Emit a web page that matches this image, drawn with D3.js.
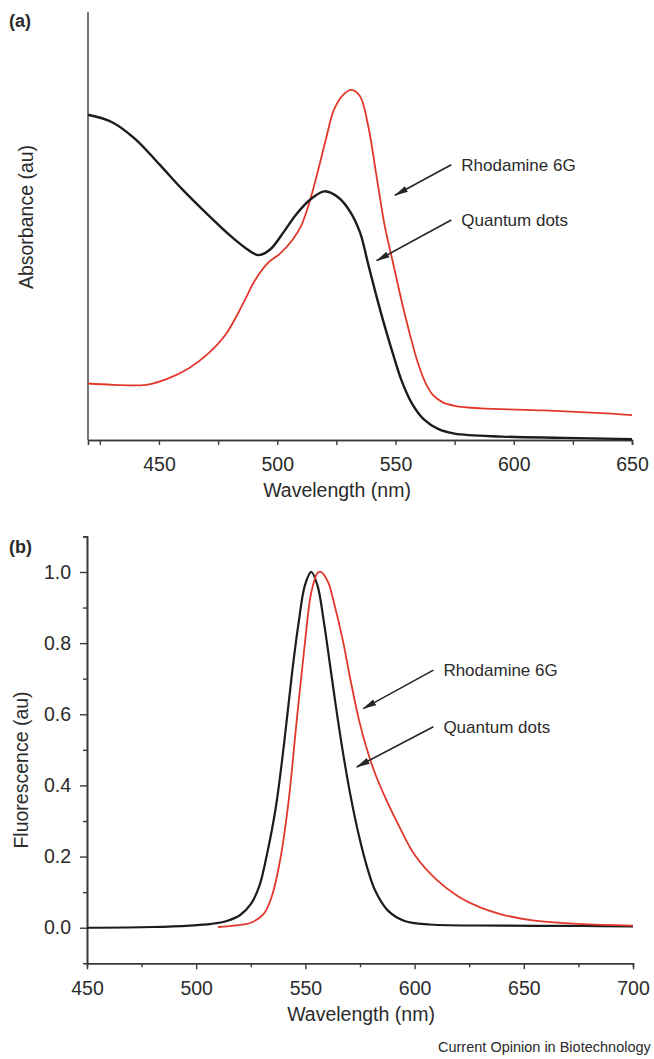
<!DOCTYPE html>
<html>
<head>
<meta charset="utf-8">
<script src="https://cdn.jsdelivr.net/npm/d3@7"></script>
<style>
  body { margin: 0; background: #fff; }
  svg { display: block; }
  text { font-family: "Liberation Sans", Arial, sans-serif; fill: #2b2b2b; }
</style>
</head>
<body>
<script>
// (a) absorbance, [wavelength nm, relative absorbance]
var absQD = [[420,0.760],[430,0.743],[440,0.703],[450,0.645],[460,0.585],[470,0.530],[480,0.478],
    [487,0.447],[492,0.432],[497,0.445],[503,0.488],[508,0.527],[514,0.562],[520,0.581],[526,0.566],
    [531,0.532],[535,0.485],[538.5,0.410],[542,0.335],[545.5,0.265],[549,0.200],[552.5,0.140],
    [557,0.085],[562,0.048],[568,0.026],[575,0.015],[595,0.008],[621,0.005],[650,0.002]];
var absR6G = [[420,0.132],[430.5,0.129],[444.5,0.129],[453.5,0.143],[462.5,0.167],[471,0.203],
    [478.5,0.249],[485.5,0.318],[490.5,0.372],[496,0.413],[501.5,0.437],[506.5,0.468],[510,0.499],
    [513.5,0.553],[517,0.624],[520.5,0.701],[524,0.772],[528,0.807],[531.3,0.818],[535,0.803],
    [538.5,0.733],[542,0.616],[545.5,0.499],[549,0.413],[552.5,0.327],[556,0.249],[559.5,0.180],
    [563,0.130],[566,0.104],[570,0.088],[575,0.080],[586,0.074],[612.5,0.069],[639,0.062],[650,0.058]];

// (b) fluorescence, [wavelength nm, normalised intensity]
var fluQD = [[450,0.000],[480,0.002],[497,0.006],[507,0.011],[514,0.019],[520,0.035],
    [525,0.066],[529,0.119],[532.5,0.209],[536.5,0.340],[540.3,0.521],[544,0.722],[547,0.862],
    [549.8,0.963],[552.7,1.000],[555.5,0.963],[558.4,0.862],[561.2,0.742],[564,0.621],[567,0.500],
    [570.7,0.370],[574.5,0.259],[578.3,0.169],[582,0.104],[587.8,0.048],[595.4,0.019],[607,0.009],
    [639,0.006],[677,0.005],[700,0.004]];
var fluR6G = [[510,0.002],[517.5,0.006],[525,0.014],[530.8,0.038],[534.6,0.088],[538.4,0.189],
    [542.2,0.350],[546,0.581],[549.8,0.802],[552.7,0.943],[555.5,0.997],[557,1.000],[560.3,0.973],
    [563.1,0.913],[567,0.812],[570.7,0.695],[574.5,0.585],[578,0.505],[582,0.432],[587,0.360],
    [593,0.284],[600,0.205],[610,0.135],[620,0.088],[630,0.057],[640,0.037],[655,0.020],
    [675,0.011],[700,0.006]];

var xTicksA = [450, 500, 550, 600, 650];
var xMinorA = [425, 475, 525, 575, 625];
var xTicksB = [450, 500, 550, 600, 650, 700];
var xMinorB = [475, 525, 575, 625, 675];
var yTicksB = [0, 0.2, 0.4, 0.6, 0.8, 1.0];
var yMinorB = [0.1, 0.3, 0.5, 0.7, 0.9, 1.1];
var dyeName = "Rhodamine 6G";
var qdName = "Quantum dots";

var width = 654, height = 1059;
var red = "#e2382c", black = "#1c1c1c", axisCol = "#3a3a3a";

var svg = d3.select("body").append("svg")
    .attr("width", width)
    .attr("height", height);

var defs = svg.append("defs");
defs.append("marker")
    .attr("id", "head")
    .attr("markerUnits", "userSpaceOnUse")
    .attr("markerWidth", 14).attr("markerHeight", 8)
    .attr("refX", 13).attr("refY", 4)
    .attr("orient", "auto")
  .append("path")
    .attr("d", "M0,0.8 L14,4 L0,7.2 Z")
    .attr("fill", "#262626");

function drawLine (g, data, x, y, color, w) {
    var line = d3.line()
        .x(function(d) { return x(d[0]); })
        .y(function(d) { return y(d[1]); })
        .curve(d3.curveCatmullRom.alpha(0.5));
    g.append("path")
        .datum(data)
        .attr("fill", "none")
        .attr("stroke", color)
        .attr("stroke-width", w)
        .attr("stroke-linejoin", "round")
        .attr("d", line);
}

function drawArrow (g, x, y, from, to, label) {
    g.append("line")
        .attr("x1", x(from[0])).attr("y1", y(from[1]))
        .attr("x2", x(to[0])).attr("y2", y(to[1]))
        .attr("stroke", "#262626")
        .attr("stroke-width", 1.6)
        .attr("marker-end", "url(#head)");
    g.append("text")
        .attr("x", x(from[0]) + 10)
        .attr("y", y(from[1]) + 6)
        .style("font-size", "17px")
        .text(label);
}

function styleAxis (sel) {
    sel.select(".domain").attr("stroke", axisCol).attr("stroke-width", 1.6);
    sel.selectAll(".tick line").attr("stroke", axisCol).attr("stroke-width", 1.4);
    sel.selectAll("text").style("font-size", "19.5px").attr("fill", "#2b2b2b");
}

// ---------- panel (a) ----------
var xA = d3.scaleLinear().domain([420, 650]).range([88, 632]);
var yA = d3.scaleLinear().domain([0, 1]).range([440, 12]);
var gA = svg.append("g");

gA.append("g")
    .attr("transform", "translate(0,440)")
    .call(d3.axisBottom(xA).tickValues(xMinorA).tickSize(5).tickFormat(""))
    .call(styleAxis);
gA.append("g")
    .attr("transform", "translate(0,440)")
    .call(d3.axisBottom(xA).tickValues(xTicksA).tickSize(5).tickPadding(12).tickSizeOuter(0))
    .call(styleAxis);
gA.append("line")
    .attr("x1", 88).attr("x2", 88)
    .attr("y1", yA(1)).attr("y2", yA(0))
    .attr("stroke", "#555").attr("stroke-width", 1.6);

drawLine(gA, absR6G, xA, yA, red, 1.8);
drawLine(gA, absQD, xA, yA, black, 2.4);
drawArrow(gA, xA, yA, [573.6, 0.643], [549.8, 0.572], dyeName);
drawArrow(gA, xA, yA, [573.6, 0.514], [542.0, 0.419], qdName);

gA.append("text")
    .attr("x", 337).attr("y", 497)
    .attr("text-anchor", "middle")
    .style("font-size", "19.5px")
    .text("Wavelength (nm)");
gA.append("text")
    .attr("transform", "translate(33,217) rotate(-90)")
    .attr("text-anchor", "middle")
    .style("font-size", "19.5px")
    .text("Absorbance (au)");
gA.append("text")
    .attr("x", 9).attr("y", 27)
    .style("font-size", "18px").style("font-weight", "bold")
    .text("(a)");

// ---------- panel (b) ----------
var xB = d3.scaleLinear().domain([450, 700]).range([87, 633]);
var yB = d3.scaleLinear().domain([-0.1, 1.1]).range([963.3, 536.4]);
var gB = svg.append("g");

gB.append("g")
    .attr("transform", "translate(0," + yB(-0.1) + ")")
    .call(d3.axisBottom(xB).tickValues(xMinorB).tickSize(4).tickFormat(""))
    .call(styleAxis);
gB.append("g")
    .attr("transform", "translate(0," + yB(-0.1) + ")")
    .call(d3.axisBottom(xB).tickValues(xTicksB).tickSize(6).tickPadding(12).tickSizeOuter(0))
    .call(styleAxis);
gB.append("g")
    .attr("transform", "translate(87,0)")
    .call(d3.axisLeft(yB).tickValues(yMinorB).tickSize(4).tickFormat(""))
    .call(styleAxis);
gB.append("g")
    .attr("transform", "translate(87,0)")
    .call(d3.axisLeft(yB).tickValues(yTicksB).tickSize(7).tickPadding(9)
        .tickFormat(d3.format(".1f")).tickSizeOuter(0))
    .call(styleAxis);

drawLine(gB, fluQD, xB, yB, black, 2.2);
drawLine(gB, fluR6G, xB, yB, red, 1.8);
drawArrow(gB, xB, yB, [608.6, 0.724], [576.5, 0.616], dyeName);
drawArrow(gB, xB, yB, [608.6, 0.565], [573.5, 0.452], qdName);

gB.append("text")
    .attr("x", 361).attr("y", 1021)
    .attr("text-anchor", "middle")
    .style("font-size", "19.5px")
    .text("Wavelength (nm)");
gB.append("text")
    .attr("transform", "translate(28,770) rotate(-90)")
    .attr("text-anchor", "middle")
    .style("font-size", "19.5px")
    .text("Fluorescence (au)");
gB.append("text")
    .attr("x", 9).attr("y", 553)
    .style("font-size", "18px").style("font-weight", "bold")
    .text("(b)");

svg.append("text")
    .attr("x", 438).attr("y", 1052)
    .style("font-size", "14.5px")
    .text("Current Opinion in Biotechnology");
</script>
</body>
</html>
